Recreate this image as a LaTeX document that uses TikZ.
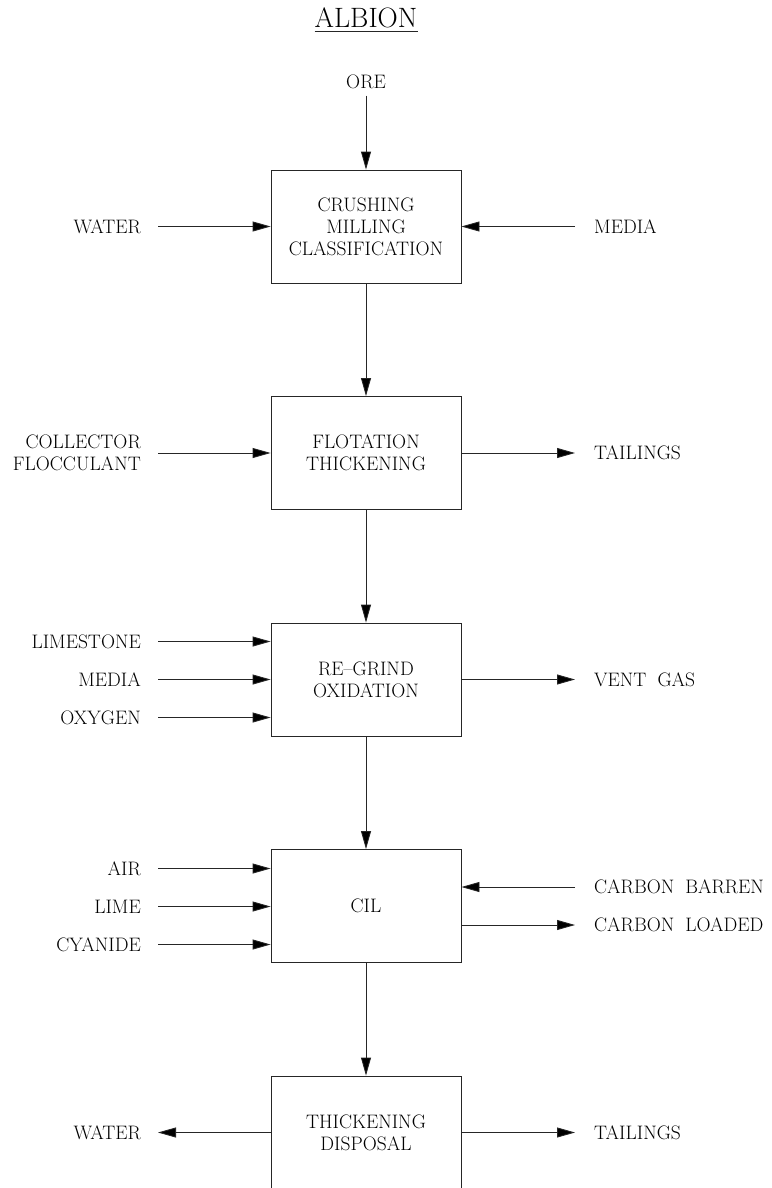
\documentclass[tikz,border=0pt]{standalone}
\usetikzlibrary{arrows.meta}
\newcommand\wsp{\hspace{11pt}}
\begin{document}
\begin{tikzpicture}[x=1pt,y=-1pt,
  txt/.style={inner sep=0pt, font=\fontsize{19.5}{22}\selectfont},
  proc/.style={draw=black!85, line width=0.85pt, minimum width=190pt, minimum height=113pt, align=center, inner sep=0pt, font=\fontsize{19.5}{22}\selectfont},
  flow/.style={draw=black!85, line width=0.85pt, -{Triangle[length=18pt,width=10pt,fill=black]}}]
\clip (0,0) rectangle (771,1188);
\fill[white] (0,0) rectangle (771,1188);
% title
\node[inner sep=0pt, font=\fontsize{28}{28}\selectfont] (title) at (366,17.5) {ALBION};
\draw[line width=1pt, black!85] ([yshift=-4pt]title.south west) -- ([yshift=-4pt]title.south east);
% boxes
\node[proc] (b1) at (366,226.5) {CRUSHING\\MILLING\\CLASSIFICATION};
\node[proc] (b2) at (366,453) {FLOTATION\\THICKENING};
\node[proc] (b3) at (366,679.5) {RE--GRIND\\OXIDATION};
\node[proc] (b4) at (366,906) {CIL};
\node[proc] (b5) at (366,1132.5) {THICKENING\\DISPOSAL};
% top feed
\node[txt] (ore) at (366,81.5) {ORE};
\draw[flow, shorten <=7pt] (ore.south) -- (b1.north);
% main chain
\draw[flow] (b1.south) -- (b2.north);
\draw[flow] (b2.south) -- (b3.north);
\draw[flow] (b3.south) -- (b4.north);
\draw[flow] (b4.south) -- (b5.north);
% box 1
\node[txt, anchor=east] (w1) at (141,226.5) {WATER};
\draw[flow, shorten <=17pt] (w1.east) -- (w1.east -| b1.west);
\node[txt, anchor=west] (m1) at (594,226.5) {MEDIA};
\draw[flow, shorten <=19pt] (m1.west) -- (m1.west -| b1.east);
% box 2
\node[txt, anchor=east, align=right] (c2) at (141,453) {COLLECTOR\\FLOCCULANT};
\draw[flow, shorten <=17pt] (c2.east) -- (c2.east -| b2.west);
\node[txt, anchor=west] (t2) at (594,453) {TAILINGS};
\draw[flow, shorten >=19pt] (t2.west -| b2.east) -- (t2.west);
% box 3
\node[txt, anchor=east] (l3) at (141,641.5) {LIMESTONE};
\node[txt, anchor=east] (m3) at (141,679.5) {MEDIA};
\node[txt, anchor=east] (o3) at (141,717.5) {OXYGEN};
\draw[flow, shorten <=17pt] (l3.east) -- (l3.east -| b3.west);
\draw[flow, shorten <=17pt] (m3.east) -- (m3.east -| b3.west);
\draw[flow, shorten <=17pt] (o3.east) -- (o3.east -| b3.west);
\node[txt, anchor=west] (v3) at (594,679.5) {VENT\wsp GAS};
\draw[flow, shorten >=19pt] (v3.west -| b3.east) -- (v3.west);
% box 4
\node[txt, anchor=east] (a4) at (141,868.5) {AIR};
\node[txt, anchor=east] (l4) at (141,906.5) {LIME};
\node[txt, anchor=east] (c4) at (141,944.5) {CYANIDE};
\draw[flow, shorten <=17pt] (a4.east) -- (a4.east -| b4.west);
\draw[flow, shorten <=17pt] (l4.east) -- (l4.east -| b4.west);
\draw[flow, shorten <=17pt] (c4.east) -- (c4.east -| b4.west);
\node[txt, anchor=west] (cb4) at (594,887) {CARBON\wsp BARREN};
\node[txt, anchor=west] (cl4) at (594,925) {CARBON\wsp LOADED};
\draw[flow, shorten <=19pt] (cb4.west) -- (cb4.west -| b4.east);
\draw[flow, shorten >=19pt] (cl4.west -| b4.east) -- (cl4.west);
% box 5
\node[txt, anchor=east] (w5) at (141,1132.5) {WATER};
\draw[flow, shorten >=17pt] (w5.east -| b5.west) -- (w5.east);
\node[txt, anchor=west] (t5) at (594,1132.5) {TAILINGS};
\draw[flow, shorten >=19pt] (t5.west -| b5.east) -- (t5.west);
\end{tikzpicture}
\end{document}
